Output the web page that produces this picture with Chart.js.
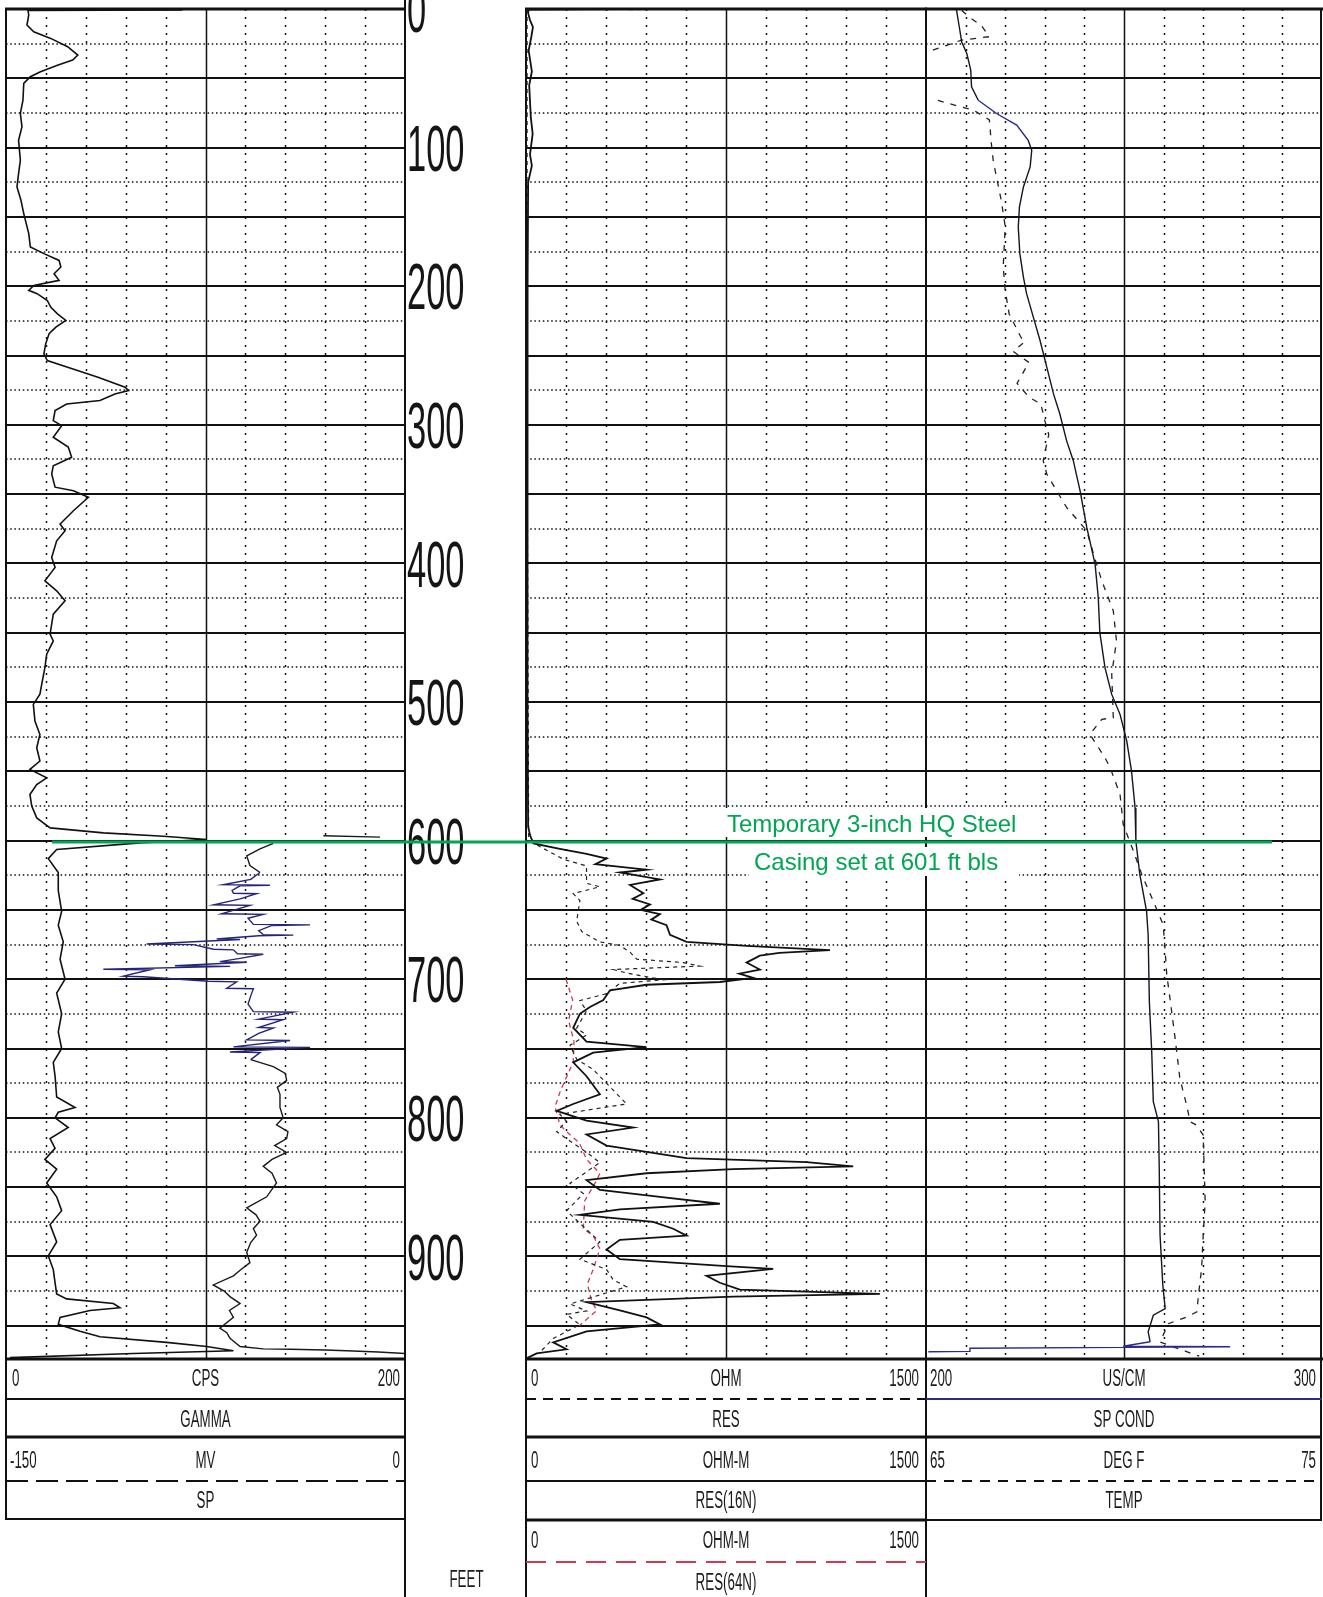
<!DOCTYPE html>
<html>
<head>
<meta charset="utf-8">
<title>Borehole geophysical log</title>
<script src="https://cdn.jsdelivr.net/npm/chart.js@4.4.1/dist/chart.umd.min.js"></script>
<style>
  html, body { margin: 0; padding: 0; background: #ffffff; }
  #wrap { position: relative; width: 1323px; height: 1597px; }
  canvas { display: block; }
</style>
</head>
<body>
<div id="wrap"><canvas id="log" width="1323" height="1597"></canvas></div>
<script>
// ---------------------------------------------------------------
// Depth axis (feet below land surface)
// ---------------------------------------------------------------
const depthRange  = [0, 974];
const depthLabels = [0, 100, 200, 300, 400, 500, 600, 700, 800, 900];
const casingDepth = 601;
const casingNote  = ['Temporary 3-inch HQ Steel', 'Casing set at 601 ft bls'];

// Curve scale ranges
const gammaRange = [0, 200];    // CPS
const spRange    = [-150, 0];   // MV
const resRange   = [0, 1500];   // OHM / OHM-M
const condRange  = [200, 300];  // US/CM
const tempRange  = [65, 75];    // DEG F

// ---------------------------------------------------------------
// GAMMA (CPS)
// ---------------------------------------------------------------
const gammaDepth = [0, 0, 0.6, 1, 4.3, 11.6, 16.4, 21.2, 27.2, 33.2,
  36.8, 40.5, 45.3, 48.9, 53.7, 65.8, 75.4, 85.0, 94.7, 109.1,
  118.7, 128.4, 138.0, 147.6, 162.1, 171.7, 176.5, 181.4, 186.2, 191.0,
  195.8, 199.4, 203.0, 205.4, 210.3, 215.1, 219.9, 224.7, 229.5, 234.3,
  241.6, 248.8, 253.6, 258.4, 265.7, 272.9, 275.3, 277.7, 282.5, 285,
  289.7, 297, 300.6, 309, 316, 323.4, 329.5, 335.5, 345, 347.5,
  352.3, 362, 371.6, 376.4, 383.7, 395.7, 402.9, 412.6, 419.8, 427,
  436.6, 451, 455.9, 465.5, 475.2, 487.2, 494.4, 501.7, 513.7, 523.4,
  533, 542.6, 548.6, 554.7, 559.5, 566.7, 575.1, 583.6, 590.8, 594.4,
  596.8, 599.2, 601.6, 606.4, 613, 623, 636, 651, 661, 673,
  685.5, 700, 710, 725, 738, 750, 760, 770, 785, 792.5,
  796, 800, 807, 815, 822, 830, 837, 847, 857, 867,
  877, 889.5, 899.5, 909.5, 919, 927, 930.6, 934, 937, 939,
  944, 949, 954, 958, 962, 965, 968, 970, 973];
const gammaCps = [11, 88, 88, 11, 11.4, 10.5, 13.9, 22.4, 30.9, 36.0,
  33.4, 25.8, 17.3, 12.2, 8.9, 8.5, 7.2, 8.0, 6.3, 7.2,
  6.3, 5.5, 7.5, 8.9, 11.4, 12.2, 19.0, 26.6, 27.5, 24.1,
  26.6, 13.9, 11.4, 15.6, 20.7, 22.4, 25.8, 30.0, 25.0, 21.6,
  19.9, 19.0, 20.7, 30.9, 46.1, 59.7, 61.4, 54.6, 47.1, 30.4,
  24.6, 23.7, 27.9, 23.7, 31.2, 32.9, 23.7, 22.9, 24.6, 33.8,
  41.3, 33.8, 27.1, 29.6, 25.4, 22.9, 24.6, 19.5, 25.4, 29.6,
  23.7, 22.1, 23.7, 20.4, 19.5, 17.9, 17.0, 13.7, 14.5, 17.0,
  15.4, 17.0, 12.0, 20.4, 15.4, 12.0, 12.9, 15.4, 22.1, 48.8,
  78.9, 100.6, 67.2, 25.4, 21.2, 26.2, 26.2, 27.9, 26.2, 28.7,
  27.1, 29.6, 25.4, 27.9, 26.2, 27.9, 23.7, 24.6, 25.4, 34.6,
  26.2, 24.6, 31.2, 22.1, 24.6, 19.5, 25.4, 20.4, 25.4, 27.9,
  22.1, 25.4, 21.2, 23.7, 24.6, 25.4, 30.4, 53.8, 57.1, 42.1,
  27.1, 26.2, 37.1, 47.1, 80.5, 100.6, 114, 63.8, 2];

// ---------------------------------------------------------------
// SP (MV) -- null marks a break in the trace
// ---------------------------------------------------------------
const spDepth = [596.5, 597.5, 598, 602, 606, 611, 618, 623, 628, 631.8,
  632.2, 632.6, 636, 638, 638.3, 642, 646.3, 646.7, 650, 652.8,
  653.2, 656, 660.4, 660.8, 661.2, 665, 667.8, 668.2, 668.6, 671,
  671.3, 674.6, 675, 678.4, 678.8, 681.6, 682, 685, 687.3, 687.7,
  690.3, 690.7, 692.8, 693.2, 697.8, 698.2, 701.5, 701.9, 706.5, 706.9,
  712, 718, 723.4, 723.8, 728.8, 729.2, 734.8, 735.2, 739, 743.8,
  744.2, 748.8, 749.2, 752.5, 752.9, 758, 763, 768, 773, 778,
  783, 792.5, 800, 805, 810, 815, 820, 825, 830, 835,
  840, 847, 857, 865, 870, 874.6, 880, 884.6, 890, 897,
  904.5, 910, 914, 920.6, 925, 929, 934, 939, 944, 951.7,
  955, 959, 965, 966.7, 967, 967.5, 968, 969, 970];
const spMv = [-30.7, -9.4, null, -49.5, -54.5, -59.5, -58.3, -54.5, -58, -68.3,
  -50.8, -62, -65, -64.5, -55.8, -62, -72, -58.3, -64, -69,
  -53.3, -59, -57, -35.7, -50, -55, -53.3, -42, -55, -70.8,
  -62, -97.1, -79.6, -72, -64.5, -63, -53.3, -62, -69.6, -59.5,
  -86.5, -65.8, -113.4, -95.9, -105.9, -98.4, -74, -63.3, -67, -57,
  -58, -59, -57, -42, -55, -45.8, -55, -49.5, -55, -59.5,
  -43.2, -64.5, -35.7, -65.8, -54.5, -58, -49.5, -45, -44.5, -48,
  -47.0, -47.0, -45.8, -48.3, -44, -44.5, -49, -44.5, -50, -53.3,
  -50, -48.3, -52.0, -59.5, -56, -54.5, -57, -55.8, -58, -59.5,
  -58.3, -62, -64.5, -72.1, -68, -65.8, -62.0, -66, -64.5, -69.6,
  -67, -65.8, -62.0, -53.3, -43, -30, -22, -10, 0];

// ---------------------------------------------------------------
// RES (OHM)
// ---------------------------------------------------------------
const resDepth = [0, 300, 598, 603, 613.4, 618.3, 630.8, 633.3, 638.2, 643.2,
  658.2, 665.6, 673.1, 675.6, 680.5, 685.5, 688, 690.5, 693, 695.5,
  700.4, 703, 710.4, 715.4, 722.8, 735.3, 740.3, 747.7, 757.7, 765.1,
  770.1, 785, 790, 797.5, 802.5, 810, 815, 824.8, 832.3, 847.2,
  854.7, 867.1, 889.5, 902, 909.4, 916.9, 921.9, 934.3, 939.3, 941.8,
  949.2, 959.2, 969.2];
const resOhm = [4, 4, 10, 40, 140, 227, 227, 277, 177, 202,
  190, 209, 277, 352, 390, 415, 590, 652, 327, 377,
  515, 352, 302, 202, 227, 190, 227, 165, 190, 252,
  277, 352, 377, 127, 152, 115, 152, 227, 277, 165,
  215, 152, 277, 202, 302, 327, 377, 165, 227, 152,
  202, 102, 52];

// ---------------------------------------------------------------
// RES(16N) (OHM-M)
// ---------------------------------------------------------------
const res16Depth = [0, 0.4, 3, 8, 13, 20, 30, 45, 55, 78,
  90, 105, 113, 125, 200, 300, 400, 500, 590, 596,
  602, 606, 609.6, 613, 617, 621, 623, 628, 632, 638,
  642, 646, 650, 653, 657, 661, 668, 673, 676, 679,
  681, 683, 688, 693, 696, 699, 702, 704, 708, 715,
  720, 725, 735, 745, 749, 753, 760, 770, 783, 790,
  795, 802, 807, 812, 820, 829, 832, 835, 837, 840,
  845, 852, 857, 862, 866, 870, 875, 880, 885, 888,
  895, 902, 907, 909, 914, 919, 924, 927, 929, 933,
  939, 944, 949, 954, 962, 967, 970, 973.5];
const res16Ohm = [370, 10, 8, 15, 26, 20, 10, 22, 12, 18,
  25, 15, 22, 8, 6, 6, 5, 6, 8, 15,
  27.5, 127, 227, 302, 260, 452, 352, 502, 390, 440,
  400, 465, 430, 502, 470, 527, 540, 602, 827, 1140,
  950, 877, 827, 877, 800, 852, 727, 452, 315, 290,
  240, 202, 177, 227, 452, 252, 177, 227, 277, 177,
  115, 227, 402, 227, 302, 602, 1052, 1227, 777, 452,
  227, 277, 502, 727, 352, 202, 477, 552, 602, 352,
  302, 352, 752, 927, 677, 727, 802, 1327, 777, 227,
  352, 452, 502, 227, 102, 152, 40, 2];

// ---------------------------------------------------------------
// RES(64N) (OHM-M)
// ---------------------------------------------------------------
const res64Depth = [0, 0.4, 0.5, 700, 715, 730, 745, 760, 765, 780,
  792, 805, 810, 818, 830, 840, 845, 860, 880, 885,
  894.5, 909.4, 920, 931.8, 939, 950];
const res64Ohm = [705, 375, null, 150, 175, 160, 180, 177, 165, 130,
  109, 127, 152, 200, 227, 277, 265, 220, 215, 252,
  277, 252, 230, 246, 265, 200];

// ---------------------------------------------------------------
// SP COND (US/CM)
// ---------------------------------------------------------------
const condDepth = [0.7, 12.8, 23.6, 32.0, 44.1, 56.1, 65.8, 75.4, 83.8, 94.7,
  101.9, 113.9, 128.4, 142.8, 157.3, 176.5, 193.4, 205.4, 222.3, 239.2,
  258.4, 277.7, 292.2, 311.4, 325.9, 347.5, 374.0, 400.5, 424.6, 449.9,
  475.2, 494.5, 508.9, 528.2, 549.9, 576.4, 600.5, 624.6, 651.1, 667.9,
  716.1, 752.2, 788.3, 802.7, 836.4, 884.5, 920.7, 937.6, 942.4, 954.4,
  961.6, 964.8, 965.2, 965.6, 966.2, 968.5, 968.8];
const condUs = [207.7, 208.4, 209.0, 210.3, 211.3, 211.5, 213.2, 217.8, 222.9, 225.8,
  226.7, 226.3, 224.6, 223.6, 223.3, 223.7, 224.6, 225.4, 227.1, 228.8,
  230.5, 232.2, 233.8, 235.5, 237.2, 238.9, 240.6, 242.7, 243.5, 243.9,
  245.2, 246.9, 249.0, 250.7, 251.9, 252.8, 253.0, 254.0, 255.7, 256.1,
  256.4, 257.0, 257.4, 258.7, 258.9, 259.1, 259.8, 260.4, 257.4, 256.1,
  256.6, 249.8, 276.8, 249.8, 211.1, 211.1, 200.6];

// ---------------------------------------------------------------
// TEMP (DEG F)
// ---------------------------------------------------------------
const tempDepth = [1, 6, 12, 20, 22.4, 30.8, 45, 66, 70, 73,
  80, 97, 110, 124, 138, 157, 186, 203, 220, 237,
  240, 247, 255, 270, 280, 285, 297, 307, 325.9, 335.5,
  359.6, 376.4, 393.3, 412.6, 434.2, 455.9, 480, 511.3, 512.5, 523.3,
  540.2, 547.4, 566.7, 588.4, 607.7, 624.5, 643.8, 660.7, 679.9, 696.8,
  713.6, 742.5, 761.8, 771.5, 790.7, 802.8, 805.2, 812.4, 860.6, 884.6,
  908.7, 928.0, 940.0, 943.7, 948.5, 961.7, 972];
const tempF = [65.9, 66.1, 66.4, 66.6, 65.9, 65.06, null, 65.3, 65.8, 66.2,
  66.6, 66.65, 66.7, 66.8, 66.9, 67.0, 66.95, 67.0, 67.1, 67.4,
  67.5, 67.2, 67.6, 67.3, 67.6, 67.9, 68.0, 68.1, 67.96, 68.05,
  68.55, 69.06, 69.23, 69.44, 69.73, 69.81, 69.69, 69.73, 69.44, 69.14,
  69.52, 69.65, 69.90, 69.98, 70.24, 70.45, 70.74, 70.99, 71.04, 71.08,
  71.16, 71.29, 71.37, 71.41, 71.58, 71.67, 71.83, 72.00, 72.05, 72.00,
  71.96, 71.88, 71.84, 71.58, 71.12, 70.91, 71.9];

// ---------------------------------------------------------------
// Page layout (pixels) and ink
// ---------------------------------------------------------------
const INK   = '#111111';
const GREEN = '#00a651';
const RED   = '#cc3a55';
const BLUE  = '#2b2b8c';
const FONT  = '"Liberation Sans", Arial, Helvetica, sans-serif';

const PLOT = { left: 6, right: 1322, top: 9, bottom: 1359 };
const TRACK_LEFT = [6, 405];
const TRACK_RES  = [526, 926];
const TRACK_COND = [926, 1322];
const DEPTH_COL  = [405, 526];

// Depth intervals where the recorder pen ran blue
const SP_BLUE_ZONES   = [[625, 760]];
const COND_BLUE_ZONES = [[66, 92], [962, 975]];

// Header rows beneath the log
const HDR = { row1: 1378, leg1: 1399, name1: 1419, sep1: 1437, row2: 1460,
              leg2: 1481, name2: 1500, sep2: 1520, row3: 1540, leg3: 1562,
              name3: 1582, feet: 1579 };

// A track occupies only part of the plot width: widen the scale so the
// track's value range lands on the track's own pixel band.
function spanFor(range, px) {
  const k = (range[1] - range[0]) / (px[1] - px[0]);
  return { min: range[0] - (px[0] - PLOT.left) * k, max: range[1] + (PLOT.right - px[1]) * k };
}

function points(depths, values) {
  return depths.map((d, i) => ({ x: values[i], y: d }));
}

function zoneColor(zones, inside, outside) {
  return ctx => {
    const d = (ctx.p0.parsed.y + ctx.p1.parsed.y) / 2;
    return zones.some(z => d >= z[0] && d <= z[1]) ? inside : outside;
  };
}

// ---------------------------------------------------------------
// Drawing helpers
// ---------------------------------------------------------------
function hline(ctx, x0, x1, y, w, dash, color) {
  ctx.save();
  ctx.strokeStyle = color || INK;
  ctx.lineWidth = w;
  ctx.setLineDash(dash || []);
  ctx.beginPath(); ctx.moveTo(x0, y); ctx.lineTo(x1, y); ctx.stroke();
  ctx.restore();
}
function vline(ctx, x, y0, y1, w) {
  ctx.save();
  ctx.strokeStyle = INK;
  ctx.lineWidth = w;
  ctx.beginPath(); ctx.moveTo(x, y0); ctx.lineTo(x, y1); ctx.stroke();
  ctx.restore();
}
// Condensed log lettering: centre of the capitals sits on y.
function text(ctx, str, x, y, align, size, sx, color) {
  ctx.save();
  ctx.font = size + 'px ' + FONT;
  ctx.fillStyle = color || '#1a1a1a';
  ctx.textAlign = align;
  ctx.textBaseline = 'alphabetic';
  ctx.translate(x, y + size * 0.358);
  ctx.scale(sx, 1);
  ctx.fillText(str, 0, 0);
  ctx.restore();
}
function hdr(ctx, str, x, y, align) { text(ctx, str, x, y, align, 23, 0.58); }

function drawTrackGrid(ctx, chart, id, range) {
  const xs = chart.scales[id], ys = chart.scales.depth;
  const xL = xs.getPixelForValue(range[0]), xR = xs.getPixelForValue(range[1]);
  const yT = ys.getPixelForValue(depthRange[0]), yB = ys.getPixelForValue(depthRange[1]);
  ctx.save();
  ctx.strokeStyle = INK;
  for (let d = 25; d < depthRange[1]; d += 25) {
    const y = Math.round(ys.getPixelForValue(d));
    if (d % 50 === 0) { ctx.lineWidth = 2; ctx.setLineDash([]); }
    else { ctx.lineWidth = 1.5; ctx.setLineDash([1.5, 2.7]); }
    ctx.beginPath(); ctx.moveTo(xL, y); ctx.lineTo(xR, y); ctx.stroke();
  }
  for (let i = 1; i < 10; i++) {
    const x = Math.round(xs.getPixelForValue(range[0] + (range[1] - range[0]) * i / 10)) + 0.5;
    ctx.lineWidth = 1.5;
    ctx.setLineDash(i === 5 ? [] : [2, 6]);
    ctx.beginPath(); ctx.moveTo(x, yT); ctx.lineTo(x, yB); ctx.stroke();
  }
  ctx.restore();
}

function drawFrames(ctx, chart) {
  const ys = chart.scales.depth;
  const yT = ys.getPixelForValue(depthRange[0]), yB = ys.getPixelForValue(depthRange[1]);
  [TRACK_LEFT, TRACK_RES, TRACK_COND].forEach(t => {
    hline(ctx, t[0] - 1, t[1] + 1, yT, 3);
    hline(ctx, t[0] - 1, t[1] + 1, yB, 3);
  });
  vline(ctx, TRACK_LEFT[0], yT - 1, HDR.sep2, 2);
  vline(ctx, DEPTH_COL[0], 0, 1597, 2);
  vline(ctx, DEPTH_COL[1], yT - 1, 1597, 2);
  vline(ctx, TRACK_RES[1], yT - 1, 1597, 2);
  vline(ctx, TRACK_COND[1] - 1, yT - 1, HDR.sep2, 2);
}

function drawHeaders(ctx) {
  // GAMMA / SP
  const [l0, l1] = TRACK_LEFT, lc = (l0 + l1) / 2;
  hline(ctx, l0, l1, HDR.leg1, 2);
  hline(ctx, l0, l1, HDR.sep1, 3);
  hline(ctx, l0, l1, HDR.leg2, 2, [22, 8]);
  hline(ctx, l0 - 1, l1, HDR.sep2 - 1, 2);
  hdr(ctx, String(gammaRange[0]), l0 + 6, HDR.row1, 'left');
  hdr(ctx, 'CPS', lc, HDR.row1, 'center');
  hdr(ctx, String(gammaRange[1]), l1 - 5, HDR.row1, 'right');
  hdr(ctx, 'GAMMA', lc, HDR.name1, 'center');
  hdr(ctx, String(spRange[0]), l0 + 4, HDR.row2, 'left');
  hdr(ctx, 'MV', lc, HDR.row2, 'center');
  hdr(ctx, String(spRange[1]), l1 - 5, HDR.row2, 'right');
  hdr(ctx, 'SP', lc, HDR.name2, 'center');

  // RES / RES(16N) / RES(64N)
  const [r0, r1] = TRACK_RES, rc = (r0 + r1) / 2;
  hline(ctx, r0, r1, HDR.leg1, 2, [10, 7]);
  hline(ctx, r0, r1, HDR.sep1, 3);
  hline(ctx, r0, r1, HDR.leg2, 2);
  hline(ctx, r0, r1, HDR.sep2, 3);
  hline(ctx, r0, r1, HDR.leg3, 2, [20, 10], RED);
  hdr(ctx, String(resRange[0]), r0 + 5, HDR.row1, 'left');
  hdr(ctx, 'OHM', rc, HDR.row1, 'center');
  hdr(ctx, String(resRange[1]), r1 - 7, HDR.row1, 'right');
  hdr(ctx, 'RES', rc, HDR.name1, 'center');
  hdr(ctx, String(resRange[0]), r0 + 5, HDR.row2, 'left');
  hdr(ctx, 'OHM-M', rc, HDR.row2, 'center');
  hdr(ctx, String(resRange[1]), r1 - 7, HDR.row2, 'right');
  hdr(ctx, 'RES(16N)', rc, HDR.name2, 'center');
  hdr(ctx, String(resRange[0]), r0 + 5, HDR.row3, 'left');
  hdr(ctx, 'OHM-M', rc, HDR.row3, 'center');
  hdr(ctx, String(resRange[1]), r1 - 7, HDR.row3, 'right');
  hdr(ctx, 'RES(64N)', rc, HDR.name3, 'center');

  // SP COND / TEMP
  const [c0, c1] = TRACK_COND, cc = (c0 + c1) / 2;
  hline(ctx, c0, c1, HDR.leg1, 2, [], BLUE);
  hline(ctx, c0, c1, HDR.sep1, 3);
  hline(ctx, c0, c1, HDR.leg2, 2, [10, 8]);
  hline(ctx, c0, c1, HDR.sep2, 2);
  hdr(ctx, String(condRange[0]), c0 + 4, HDR.row1, 'left');
  hdr(ctx, 'US/CM', cc, HDR.row1, 'center');
  hdr(ctx, String(condRange[1]), c1 - 6, HDR.row1, 'right');
  hdr(ctx, 'SP COND', cc, HDR.name1, 'center');
  hdr(ctx, String(tempRange[0]), c0 + 4, HDR.row2, 'left');
  hdr(ctx, 'DEG F', cc, HDR.row2, 'center');
  hdr(ctx, String(tempRange[1]), c1 - 6, HDR.row2, 'right');
  hdr(ctx, 'TEMP', cc, HDR.name2, 'center');

  // depth column caption
  hdr(ctx, 'FEET', (DEPTH_COL[0] + DEPTH_COL[1]) / 2 + 1, HDR.feet, 'center');
}

function drawDepthLabels(ctx, chart) {
  const ys = chart.scales.depth;
  depthLabels.forEach(d => {
    text(ctx, String(d), DEPTH_COL[0] + 2, ys.getPixelForValue(d), 'left', 65, 0.53, '#151515');
  });
}

function drawCasing(ctx, chart) {
  const y = chart.scales.depth.getPixelForValue(casingDepth);
  hline(ctx, 52, 1272, y, 3, [], GREEN);
  ctx.save();
  ctx.fillStyle = '#ffffff';
  ctx.fillRect(724, 808, 296, 29);
  ctx.fillRect(749, 847, 270, 29);
  ctx.font = '24px ' + FONT;
  ctx.fillStyle = GREEN;
  ctx.textAlign = 'left';
  ctx.textBaseline = 'alphabetic';
  ctx.fillText(casingNote[0], 727, 832);
  ctx.fillText(casingNote[1], 754, 870);
  ctx.restore();
}

const logFrame = {
  id: 'logFrame',
  beforeDraw(chart) {
    const ctx = chart.ctx;
    ctx.save();
    ctx.fillStyle = '#ffffff';
    ctx.fillRect(0, 0, chart.width, chart.height);
    ctx.restore();
  },
  beforeDatasetsDraw(chart) {
    const ctx = chart.ctx;
    drawTrackGrid(ctx, chart, 'gamma', gammaRange);
    drawTrackGrid(ctx, chart, 'res', resRange);
    drawTrackGrid(ctx, chart, 'cond', condRange);
  },
  afterDatasetsDraw(chart) {
    const ctx = chart.ctx;
    drawFrames(ctx, chart);
    drawHeaders(ctx);
    drawDepthLabels(ctx, chart);
    drawCasing(ctx, chart);
  }
};

function curve(label, depths, values, axis, color, width, dash, segColor) {
  const ds = {
    label, data: points(depths, values), xAxisID: axis, yAxisID: 'depth',
    showLine: true, borderColor: color, backgroundColor: color,
    borderWidth: width, borderDash: dash || [], pointRadius: 0,
    pointHoverRadius: 0, tension: 0, fill: false, spanGaps: false
  };
  if (segColor) ds.segment = { borderColor: segColor };
  return ds;
}

new Chart(document.getElementById('log'), {
  type: 'scatter',
  data: {
    datasets: [
      curve('RES(16N)', res16Depth, res16Ohm, 'res', INK, 1.8),
      curve('GAMMA', gammaDepth, gammaCps, 'gamma', INK, 1.6),
      curve('SP COND', condDepth, condUs, 'cond', '#151522', 1.4, null,
            zoneColor(COND_BLUE_ZONES, BLUE, '#151522')),
      curve('SP', spDepth, spMv, 'sp', '#1a1a1a', 1.4, null,
            zoneColor(SP_BLUE_ZONES, '#24247a', '#1a1a1a')),
      curve('TEMP', tempDepth, tempF, 'temp', '#222222', 1.3, [6, 7]),
      curve('RES', resDepth, resOhm, 'res', '#222222', 1.2, [4, 4]),
      curve('RES(64N)', res64Depth, res64Ohm, 'res', RED, 1.3, [5, 4])
    ]
  },
  options: {
    responsive: false,
    animation: false,
    events: [],
    layout: { padding: { left: PLOT.left, right: 1323 - PLOT.right, top: PLOT.top, bottom: 1597 - PLOT.bottom } },
    plugins: { legend: { display: false }, tooltip: { enabled: false } },
    scales: {
      depth: { type: 'linear', axis: 'y', position: 'left', reverse: true,
               min: depthRange[0], max: depthRange[1], display: false },
      gamma: Object.assign({ type: 'linear', axis: 'x', position: 'bottom', display: false }, spanFor(gammaRange, TRACK_LEFT)),
      sp:    Object.assign({ type: 'linear', axis: 'x', position: 'bottom', display: false }, spanFor(spRange, TRACK_LEFT)),
      res:   Object.assign({ type: 'linear', axis: 'x', position: 'bottom', display: false }, spanFor(resRange, TRACK_RES)),
      cond:  Object.assign({ type: 'linear', axis: 'x', position: 'bottom', display: false }, spanFor(condRange, TRACK_COND)),
      temp:  Object.assign({ type: 'linear', axis: 'x', position: 'bottom', display: false }, spanFor(tempRange, TRACK_COND))
    }
  },
  plugins: [logFrame]
});
</script>
</body>
</html>
